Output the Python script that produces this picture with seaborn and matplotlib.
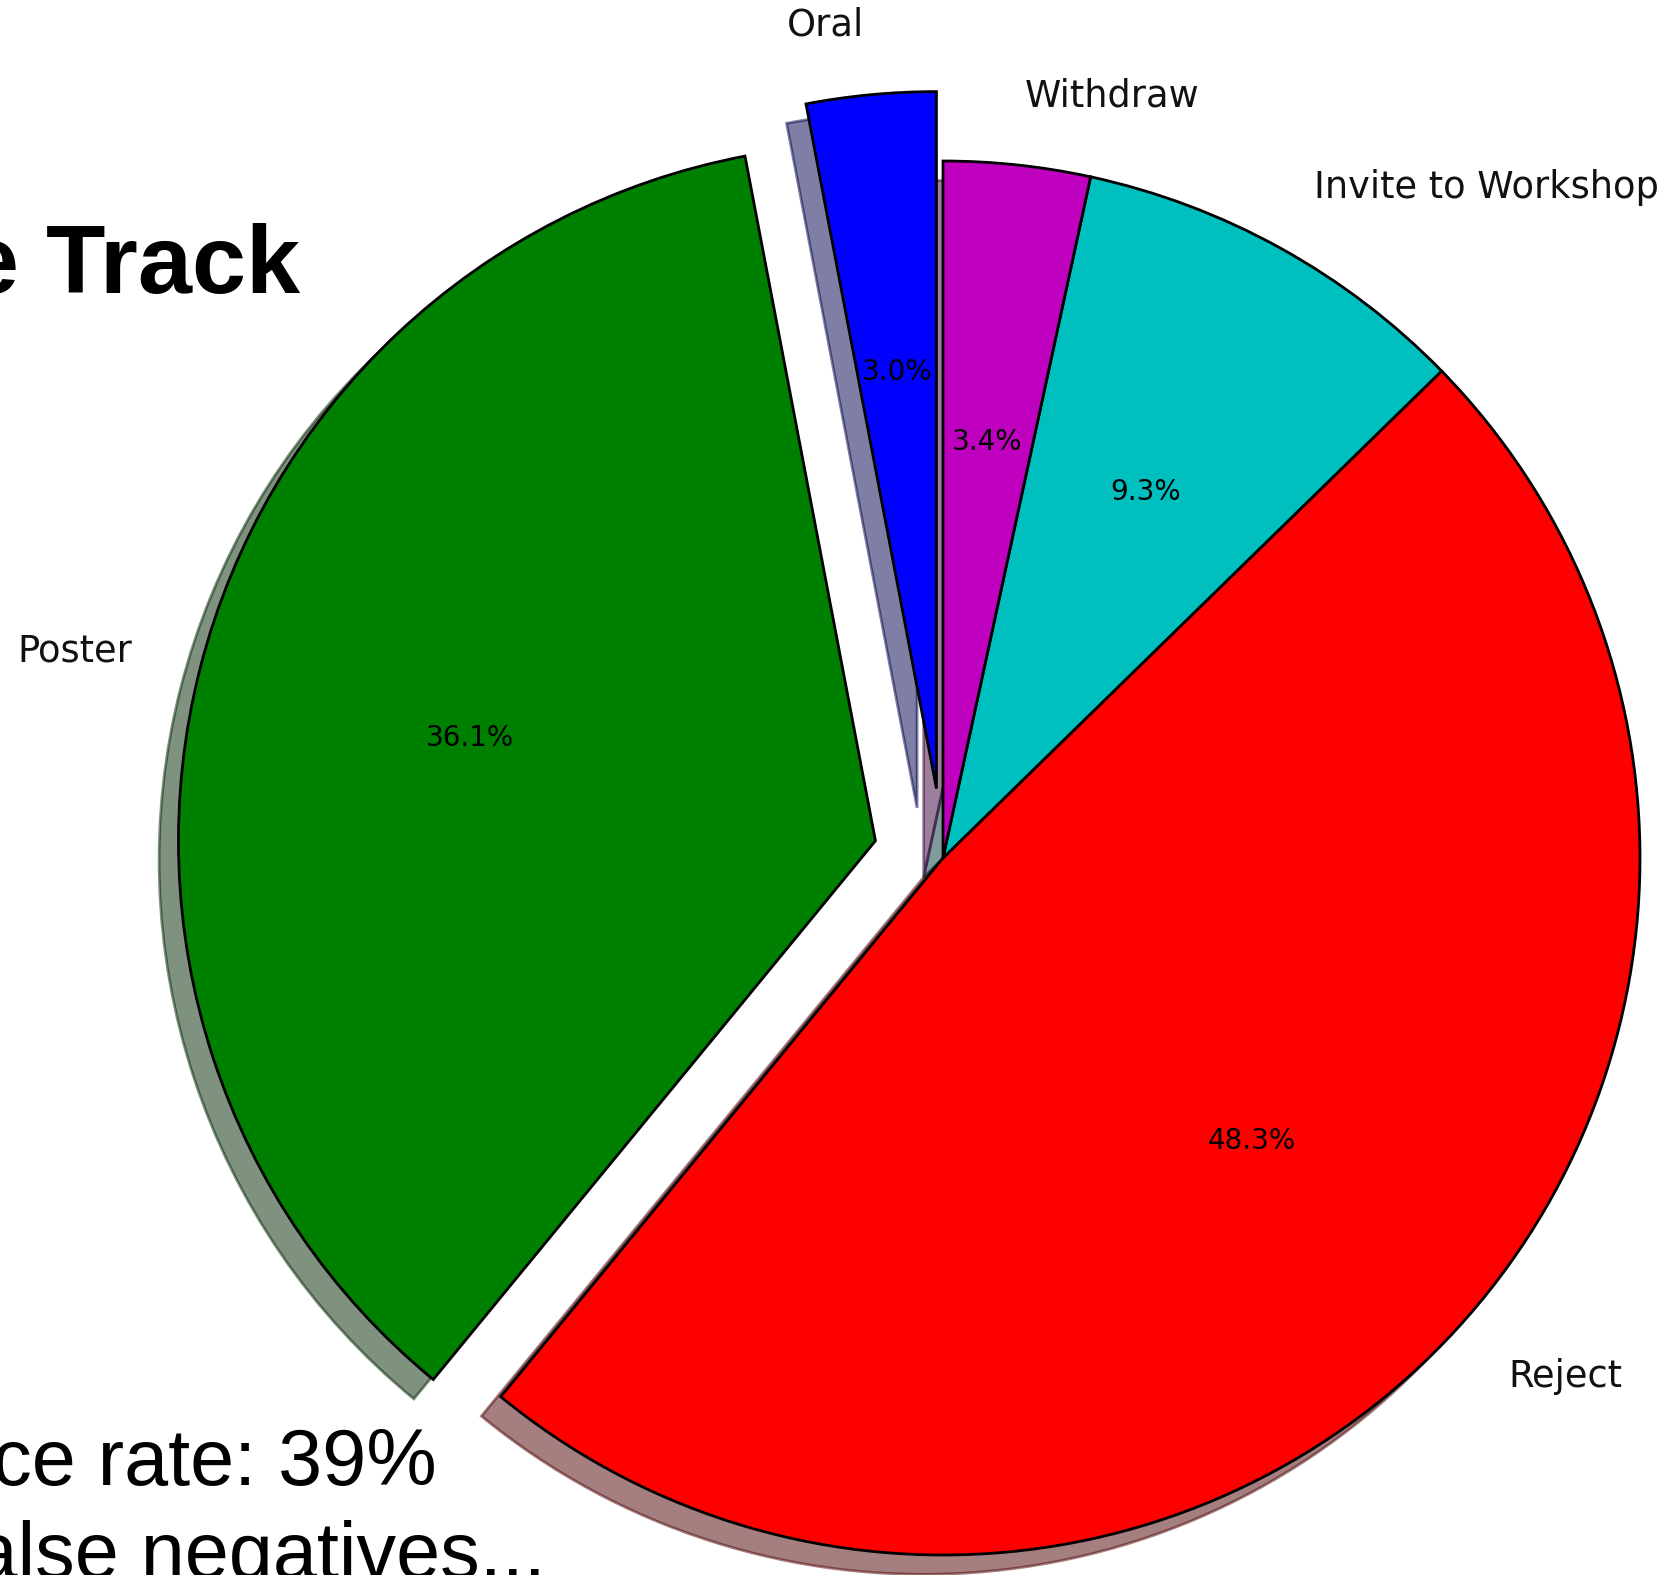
import matplotlib
matplotlib.use("Agg")
import matplotlib.pyplot as plt
import seaborn as sns

# Decisions on submitted papers (share in percent)
labels = ["Oral", "Poster", "Reject", "Invite to Workshop", "Withdraw"]
shares = [3.0, 36.1, 48.3, 9.3, 3.4]

# Slide text around the chart
title_text = "Conference Track"
bullet_lines = ["Acceptance rate: 39%", "Many false negatives..."]

sns.set_theme(style="white")
plt.rcParams["font.family"] = ["DejaVu Sans"]

colors = [(0, 0, 1), (0, 0.5, 0), (1, 0, 0), (0, 0.75, 0.75), (0.75, 0, 0.75)]
explode = [0.1, 0.1, 0, 0, 0]

W, H, DPI = 1681, 1575, 100
R_PX = 697.0          # pie radius in pixels
CX, CY = 943.0, 858.0  # pie centre in pixels (from top-left)

fig = plt.figure(figsize=(W / DPI, H / DPI), dpi=DPI)
fig.patch.set_facecolor("white")
ax = fig.add_axes([0, 0, 1, 1])

wedges, texts, autotexts = ax.pie(
    shares,
    explode=explode,
    labels=labels,
    colors=colors,
    autopct="%1.1f%%",
    shadow=True,
    startangle=90,
    wedgeprops=dict(edgecolor="black", linewidth=2.0),
    textprops=dict(fontsize=26.5, color="#111111"),
)
for t in autotexts:
    t.set_fontsize(20)
    t.set_color("black")

ax.set_xlim(-CX / R_PX, (W - CX) / R_PX)
ax.set_ylim(-(H - CY) / R_PX, CY / R_PX)
ax.set_aspect("equal")
ax.axis("off")

# Slide title and bullet text, partly outside the visible area
fig.text(300 / W, 1 - 293 / H, title_text, ha="right", va="baseline",
         fontsize=70, fontweight="bold",
         family=["Liberation Sans", "DejaVu Sans"], color="black")
fig.text(437 / W, 1 - 1485 / H, bullet_lines[0], ha="right", va="baseline",
         fontsize=57, fontweight="normal",
         family=["Liberation Sans", "DejaVu Sans"], color="black")
fig.text(546 / W, 1 - 1578 / H, bullet_lines[1], ha="right", va="baseline",
         fontsize=57, fontweight="normal",
         family=["Liberation Sans", "DejaVu Sans"], color="black")

fig.savefig("out.png", dpi=DPI, facecolor="white")
